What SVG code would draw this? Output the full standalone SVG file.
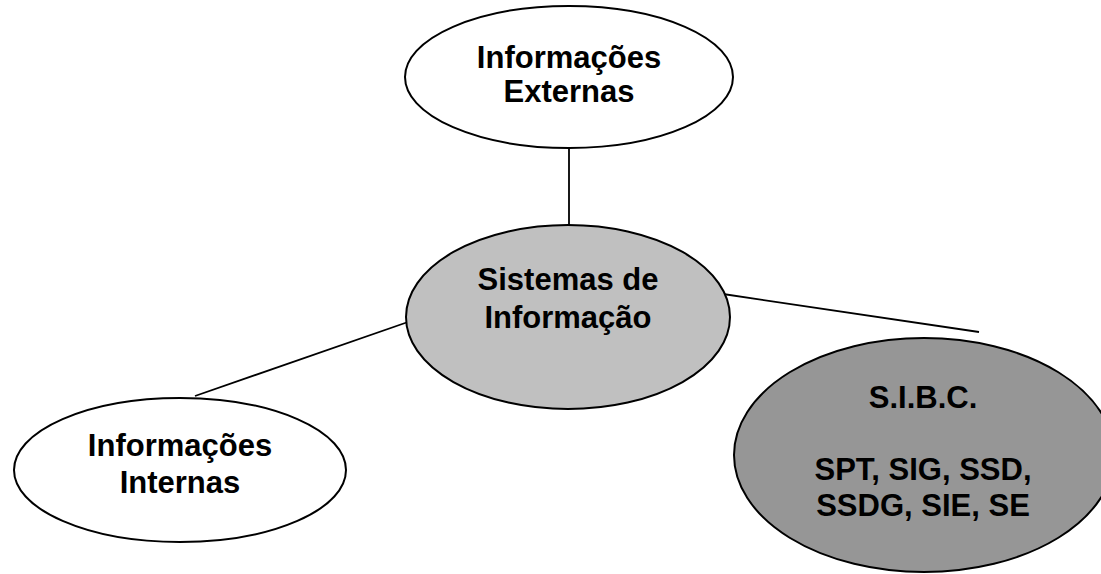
<svg xmlns="http://www.w3.org/2000/svg" width="1101" height="574" viewBox="0 0 1101 574">
<style>
.n{stroke:#000;stroke-width:2}
.t{font-family:"Liberation Sans",Arial,sans-serif;font-weight:bold;font-size:31px;text-anchor:middle;fill:#000}
.c{stroke:#000;stroke-width:1.8;fill:none}
</style>
<rect width="1101" height="574" fill="#fff"/>
<g id="connectors">
<line class="c" x1="569" y1="148" x2="569" y2="225"/>
<line class="c" x1="408" y1="322" x2="195" y2="396"/>
<line class="c" x1="723" y1="294" x2="979" y2="332"/>
</g>
<g id="externas">
<ellipse class="n" cx="569" cy="77" rx="164" ry="71" fill="#fff"/>
<text class="t" x="569" y="68">Informações</text>
<text class="t" x="569" y="102">Externas</text>
</g>
<g id="sistemas">
<ellipse class="n" cx="568" cy="317" rx="162" ry="92" fill="#c0c0c0"/>
<text class="t" x="568" y="290">Sistemas de</text>
<text class="t" x="568" y="328">Informação</text>
</g>
<g id="internas">
<ellipse class="n" cx="180" cy="470" rx="166" ry="72" fill="#fff"/>
<text class="t" x="180" y="456">Informações</text>
<text class="t" x="180" y="493">Internas</text>
</g>
<g id="sibc">
<ellipse class="n" cx="924" cy="455" rx="190" ry="117" fill="#969696"/>
<text class="t" x="923" y="408">S.I.B.C.</text>
<text class="t" x="923" y="480">SPT, SIG, SSD,</text>
<text class="t" x="923" y="516">SSDG, SIE, SE</text>
</g>
</svg>
